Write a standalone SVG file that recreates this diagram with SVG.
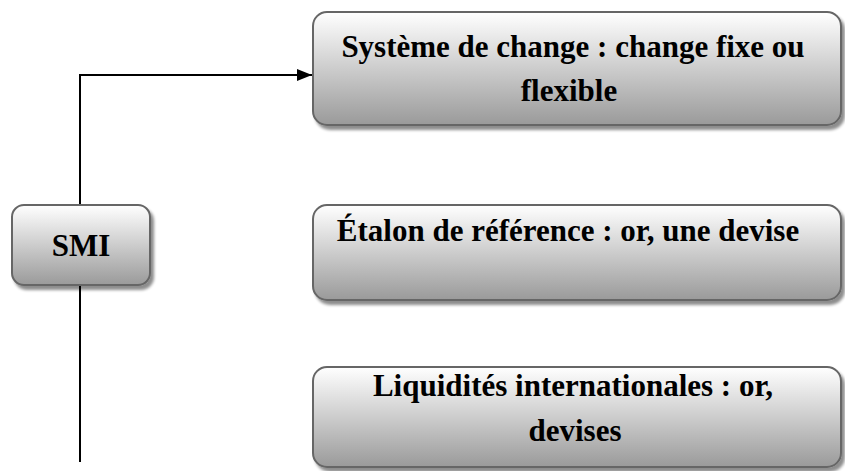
<svg xmlns="http://www.w3.org/2000/svg" width="845" height="471" viewBox="0 0 845 471">
<defs>
<linearGradient id="g" x1="0" y1="0" x2="0" y2="1">
<stop offset="0" stop-color="#ffffff"/>
<stop offset="1" stop-color="#9a9a9a"/>
</linearGradient>
<filter id="sh" x="-5%" y="-5%" width="115%" height="120%">
<feGaussianBlur in="SourceAlpha" stdDeviation="1.5"/>
<feOffset dx="3" dy="4" result="b"/>
<feComponentTransfer><feFuncA type="linear" slope="0.45"/></feComponentTransfer>
<feMerge><feMergeNode/><feMergeNode in="SourceGraphic"/></feMerge>
</filter>
<marker id="arr" markerWidth="15" markerHeight="12" refX="15" refY="6" orient="auto" markerUnits="userSpaceOnUse">
<path d="M0,0 L15,6 L0,12 Z" fill="#000"/>
</marker>
</defs>
<style>
.box{fill:url(#g);stroke:#666;stroke-width:2;filter:url(#sh)}
.t{font-family:"Liberation Serif","Times New Roman",serif;font-weight:bold;font-size:31px;fill:#000;text-anchor:middle}
.c{fill:none;stroke:#000;stroke-width:2}
</style>
<rect width="845" height="471" fill="#fff"/>
<g id="connectors">
<path class="c" d="M80,205 V75 H312" marker-end="url(#arr)"/>
<path class="c" d="M80,285 V462"/>
</g>
<g id="smi">
<rect class="box" x="12" y="205" width="138" height="80" rx="12"/>
<text class="t" x="81" y="256">SMI</text>
</g>
<g id="systeme">
<rect class="box" x="313" y="12" width="528" height="113" rx="14"/>
<text class="t" x="573" y="57">Système de change : change fixe ou</text>
<text class="t" x="569" y="101">flexible</text>
</g>
<g id="etalon">
<rect class="box" x="313" y="205" width="528" height="95" rx="14"/>
<text class="t" x="568" y="241">Étalon de référence : or, une devise</text>
</g>
<g id="liquidites">
<rect class="box" x="313" y="367" width="528" height="100" rx="14"/>
<text class="t" x="573" y="396">Liquidités internationales : or,</text>
<text class="t" x="575" y="441">devises</text>
</g>
</svg>
